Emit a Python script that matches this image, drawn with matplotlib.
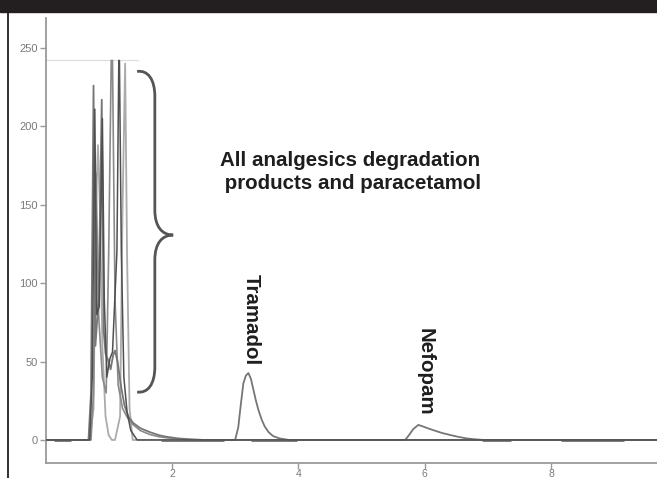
#!/usr/bin/env python3
"""Chromatogram overlay: analgesic degradation products, tramadol and nefopam."""

import matplotlib
matplotlib.use('Agg')
import matplotlib.pyplot as plt
from matplotlib.patches import Rectangle, PathPatch
from matplotlib.path import Path
from matplotlib.lines import Line2D

# --- data (retention time [min], response) ---
t_main = [0.00, 0.68, 0.72, 0.76, 0.79, 0.84, 0.89, 0.92, 0.95, 1.00, 1.03, 1.07,
          1.10, 1.14, 1.20, 1.25, 1.31, 1.39, 1.50, 1.65, 1.80, 1.92, 2.10, 2.23,
          2.50, 3.00, 3.05, 3.08, 3.13, 3.17, 3.21, 3.25, 3.29, 3.33, 3.37, 3.42,
          3.47, 3.53, 3.60, 3.70, 3.85, 5.69, 5.75, 5.82, 5.90, 5.98, 6.06, 6.14,
          6.27, 6.40, 6.53, 6.66, 6.80, 6.93, 9.70]
y_main = [0, 0, 30, 226, 60, 90, 217, 70, 55, 50, 45, 54,
          57, 50, 33, 22, 15, 10.8, 7.5, 5, 3, 2, 1, 0.6,
          0, 0, 8, 19, 36, 41, 42.7, 39, 32, 25, 19, 13,
          8.5, 5, 2.5, 1, 0, 0, 3, 7, 9.6, 8.5, 7.3, 6.2,
          4.5, 3.2, 2, 1, 0.4, 0, 0]

t_dark = [0.00, 0.70, 0.74, 0.78, 0.81, 0.85, 0.88, 0.90, 0.93, 0.97, 1.02, 1.06,
          1.13, 1.16, 1.17, 1.20, 1.24, 1.29, 1.35, 1.45, 9.70]
y_dark = [0, 0, 40, 211, 80, 85, 150, 205, 90, 40, 52, 56,
          120, 242, 242, 120, 40, 18, 6, 0, 0]

t_light = [0.00, 0.70, 0.76, 0.80, 0.83, 0.86, 0.90, 0.95, 1.00, 1.05, 1.10, 1.18,
           1.22, 1.26, 1.29, 1.33, 1.38, 9.70]
y_light = [0, 0, 20, 150, 188, 150, 60, 15, 3, 0, 0, 15,
           150, 240, 120, 20, 0, 0]

t_mid = [0.00, 0.72, 0.76, 0.80, 0.84, 0.90, 0.96, 1.00, 1.04, 1.06, 1.10, 1.15,
         1.22, 1.30, 1.38, 1.50, 1.65, 1.80, 2.00, 2.20, 9.70]
y_mid = [0, 0, 30, 170, 80, 40, 30, 120, 242, 242, 90, 35,
         20, 14, 10, 6, 3.5, 2, 1, 0, 0]

# darker stretches of the baseline where several runs overlap
dark_base_segments = [(0.14, 0.41), (1.83, 2.83), (3.25, 3.98), (6.90, 7.37), (8.16, 9.16)]

CLIP_LEVEL = 242
CLIP_END = 1.46

# brace (time, response): tips, spine, centre point
BRACE_TIP_X = 1.45
BRACE_SPINE_X = 1.73
BRACE_MID_X = 2.02
BRACE_TOP = 235
BRACE_BOTTOM = 30.6
BRACE_MID = 130.7

label_group = 'All analgesics degradation\n products and paracetamol'
labels_peaks = [('Tramadol', 3.26, 76.5), ('Nefopam', 6.00, 43.5)]

x_ticks = [2, 4, 6, 8]
y_ticks = [0, 50, 100, 150, 200, 250]

W, H = 657, 478


def brace_path():
    cy = 16   # vertical size of each curl
    tx, sx, mx = BRACE_TIP_X, BRACE_SPINE_X, BRACE_MID_X
    top, bot, mid = BRACE_TOP, BRACE_BOTTOM, BRACE_MID
    verts = [
        (tx, top), (tx + 0.17, top + 1), (sx, top - 5), (sx, top - cy),
        (sx, mid + cy),
        (sx, mid + 5), (sx + 0.12, mid), (mx, mid),
        (sx + 0.12, mid), (sx, mid - 5), (sx, mid - cy),
        (sx, bot + cy),
        (sx, bot + 5), (tx + 0.17, bot - 1), (tx, bot),
    ]
    codes = [Path.MOVETO, Path.CURVE4, Path.CURVE4, Path.CURVE4,
             Path.LINETO,
             Path.CURVE4, Path.CURVE4, Path.CURVE4,
             Path.CURVE4, Path.CURVE4, Path.CURVE4,
             Path.LINETO,
             Path.CURVE4, Path.CURVE4, Path.CURVE4]
    return Path(verts, codes)


def main():
    plt.rcParams['font.family'] = ['Liberation Sans', 'DejaVu Sans']
    fig = plt.figure(figsize=(W / 100, H / 100), dpi=100)
    fig.patch.set_facecolor('white')

    left, right = 45.5 / W, 1.0
    bottom, top = 1 - 462.7 / H, 1 - 18 / H
    ax = fig.add_axes([left, bottom, right - left, top - bottom])

    # frame around the clipped inset region
    ax.plot([0, CLIP_END], [CLIP_LEVEL, CLIP_LEVEL], color='#dcdcdc', lw=0.8, zorder=1)

    # baseline overlaps
    for a, b in dark_base_segments:
        ax.plot([a, b], [0, 0], color='#555555', lw=1.8, zorder=2, solid_capstyle='butt')

    ax.plot(t_light, y_light, color='#ababab', lw=1.3, zorder=3)
    ax.plot(t_mid, y_mid, color='#8a8a8a', lw=1.2, zorder=3)
    ax.plot(t_main, y_main, color='#767676', lw=1.3, zorder=4)
    ax.plot(t_dark, y_dark, color='#4f4f4f', lw=1.1, zorder=4)

    ax.add_patch(PathPatch(brace_path(), facecolor='none', edgecolor='#555555',
                           lw=2.0, zorder=5))

    ax.text(4.82, 171, label_group, ha='center', va='center', fontsize=14.8,
            fontweight='bold', color='#1e1e1e', linespacing=1.25, multialignment='center')
    for name, x, y in labels_peaks:
        ax.text(x, y, name, rotation=270, ha='center', va='center', fontsize=14.8,
                fontweight='bold', color='#1e1e1e')

    ax.set_xlim(0, (W - 45.5) / 63.2)
    ax.set_ylim(-14.5, 269.1)
    ax.set_xticks(x_ticks)
    ax.set_yticks(y_ticks)
    for s in ['top', 'right']:
        ax.spines[s].set_visible(False)
    for s in ['left', 'bottom']:
        ax.spines[s].set_color('#9a9a9a')
        ax.spines[s].set_linewidth(1.3)
    ax.tick_params(length=4, width=1, color='#9a9a9a', labelcolor='#7a7a7a',
                   labelsize=8, pad=1.5)
    ax.tick_params(axis='x', labelsize=7.5, pad=0.5)

    # black header strip and left border
    fig.patches.append(Rectangle((0, 1 - 12 / H), 1, 12 / H, transform=fig.transFigure,
                                 color='#231f20', zorder=10))
    fig.lines.append(Line2D([7.5 / W, 7.5 / W], [0, 1 - 12 / H], transform=fig.transFigure,
                            color='#231f20', lw=1.3))

    fig.savefig('out.png', dpi=100)
    plt.close(fig)


if __name__ == '__main__':
    main()
